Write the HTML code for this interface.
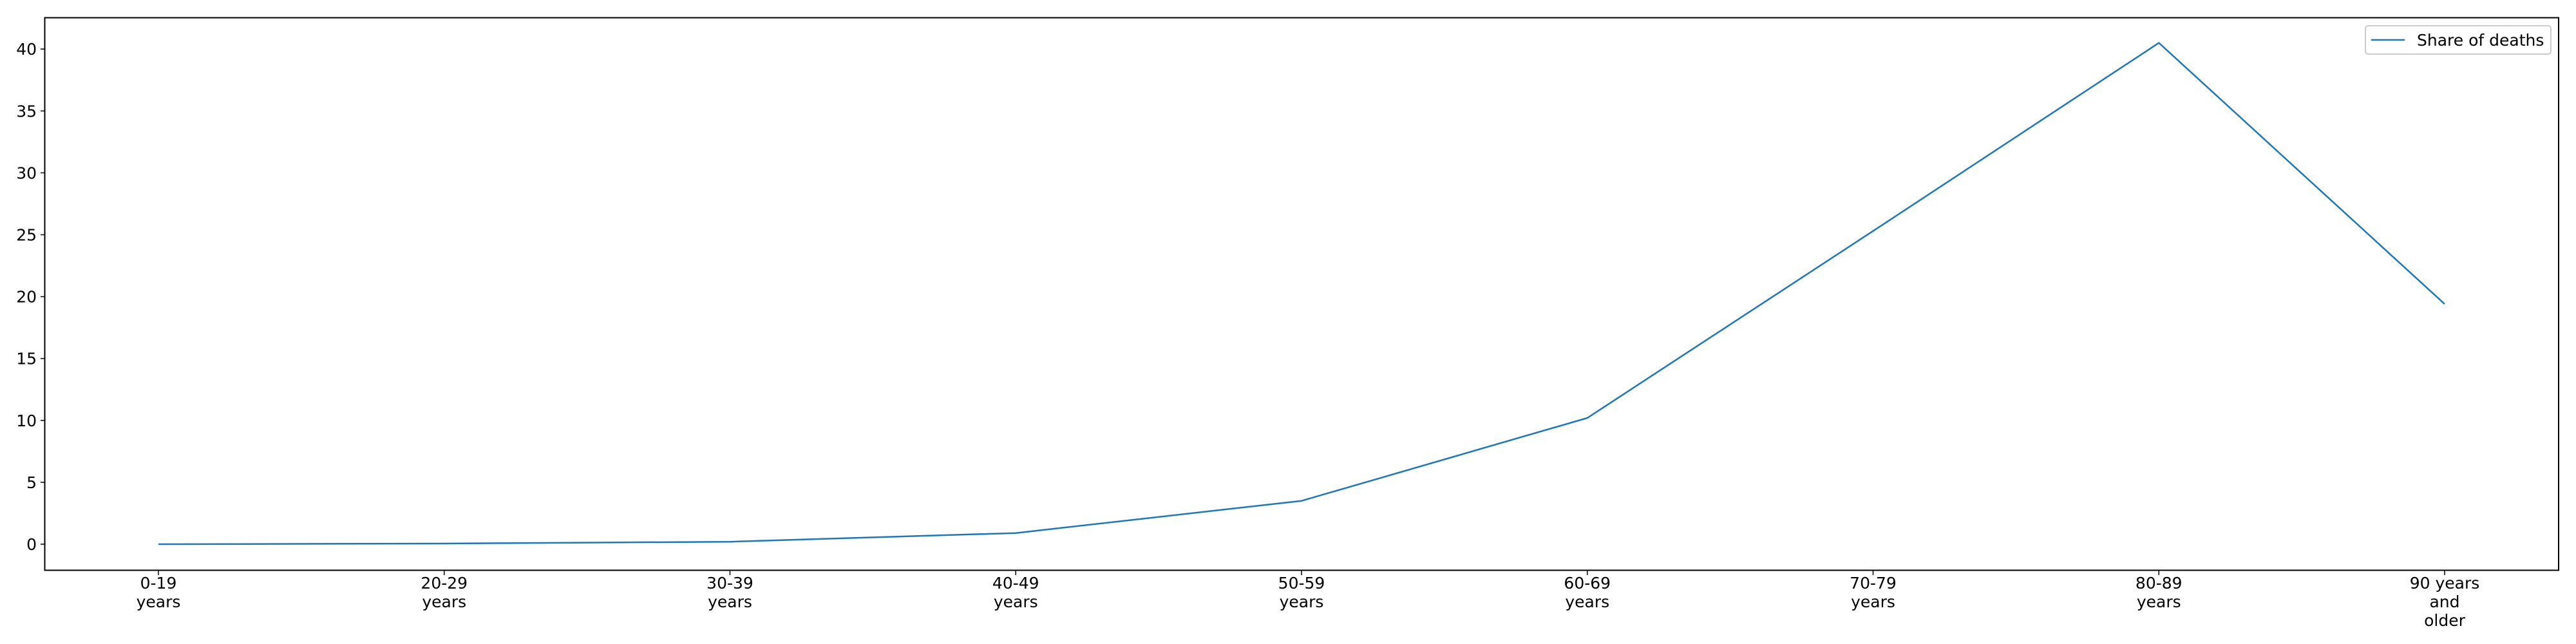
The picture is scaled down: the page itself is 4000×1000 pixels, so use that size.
<!DOCTYPE html>
<html><head><meta charset="utf-8"><style>
html,body{margin:0;padding:0;background:#fff;}
svg{display:block;font-family:"DejaVu Sans","Liberation Sans",sans-serif;}
</style></head><body>
<svg id="chart" width="4000" height="1000" viewBox="0 0 4000 1000" xmlns="http://www.w3.org/2000/svg">
<rect x="0" y="0" width="4000" height="1000" fill="#fff"/>
<g id="yaxis"></g>
<g id="xaxis"></g>
<g id="plot"></g>
<rect x="69.5" y="27.5" width="3903.5" height="858" fill="none" stroke="#000" stroke-width="2"/>
<g>
<rect x="3673" y="40" width="288" height="44" rx="4" fill="#fff" stroke="#ccc" stroke-width="2"/>
<line x1="3682" y1="62" x2="3734" y2="62" stroke="#1f77b4" stroke-width="2.5"/>
<text x="3753" y="71" font-size="25" fill="#000">Share of deaths</text>
</g>
</svg>
<script>
const categories = [["0-19","years"],["20-29","years"],["30-39","years"],["40-49","years"],["50-59","years"],["60-69","years"],["70-79","years"],["80-89","years"],["90 years","and","older"]];
const shareValues = [0.0, 0.05, 0.2, 0.9, 3.5, 10.2, 25.3, 40.5, 19.4];
const yTicks = [0, 5, 10, 15, 20, 25, 30, 35, 40];

const NS = "http://www.w3.org/2000/svg";
const x0 = 246, xStep = 443.75;
const yZero = 845, yPerUnit = 19.22;
function xScale(i){ return x0 + i * xStep; }
function yScale(v){ return yZero - v * yPerUnit; }
function mk(tag, attrs, parent){ const e=document.createElementNS(NS,tag); for(const k in attrs) e.setAttribute(k, attrs[k]); parent.appendChild(e); return e; }

const yaxis = document.getElementById('yaxis');
yTicks.forEach(t => {
  const y = yScale(t);
  const tk = mk('line', {x1:63, x2:69.5, y1:y, y2:y, stroke:'#000', 'stroke-width':1.5}, yaxis);
  
  
  const lb = mk('text', {x:57, y:y+9, 'font-size':25, 'text-anchor':'end', fill:'#000'}, yaxis);
  lb.textContent = String(t);
  
  
});

const xaxis = document.getElementById('xaxis');
categories.forEach((lines, i) => {
  const x = xScale(i);
  const tk = mk('line', {x1:x, x2:x, y1:886.5, y2:893, stroke:'#000', 'stroke-width':1.5}, xaxis);
  
  
  const lb = mk('text', {x:x, y:914, 'font-size':25, 'text-anchor':'middle', fill:'#000'}, xaxis);
  
  
  lines.forEach((s, j) => {
    const ts = mk('tspan', {x:x, dy: j===0 ? 0 : 29}, lb);
    ts.textContent = s;
  });
});

const plot = document.getElementById('plot');
const pts = shareValues.map((v,i) => xScale(i).toFixed(1)+','+yScale(v).toFixed(1)).join(' ');
const line = mk('polyline', {points:pts, fill:'none', stroke:'#1f77b4', 'stroke-width':2.5, 'stroke-linejoin':'round'}, plot);


</script>
</body></html>
